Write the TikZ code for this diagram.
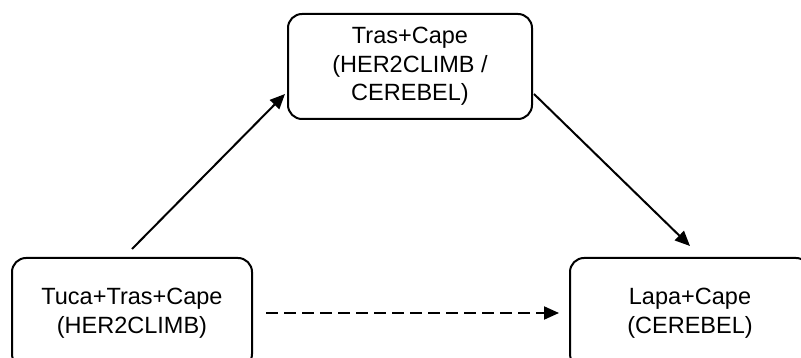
\documentclass[tikz,border=0pt]{standalone}
\usepackage{fontspec}
\setmainfont{Liberation Sans}
\usetikzlibrary{arrows.meta}
\begin{document}
\begin{tikzpicture}[x=1pt,y=-1pt,
  box/.style={draw=black, line width=2pt, rounded corners=14pt, minimum width=240pt, minimum height=110pt, inner sep=0pt, align=center, font=\fontsize{23.5pt}{28.6pt}\selectfont},
  topbox/.style={box, minimum width=244pt, minimum height=105pt},
  arr/.style={line width=2pt, -{Triangle[length=15pt,width=13pt]}},
  dasharr/.style={arr, dash pattern=on 12pt off 6pt}]
\clip (0,0) rectangle (801,358);
\useasboundingbox (0,0) rectangle (801,358);
\node[topbox] (T) at (410,66.5) {Tras+Cape\\(HER2CLIMB /\\CEREBEL)};
\node[box] (L) at (132,313) {Tuca+Tras+Cape\\(HER2CLIMB)};
\node[box] (R) at (690,313) {Lapa+Cape\\(CEREBEL)};
\coordinate (a1s) at ([yshift=8pt]L.north);
\coordinate (a1e) at ([xshift=-2pt,yshift=26pt]T.south west);
\coordinate (a2s) at ([xshift=1pt,yshift=26pt]T.south east);
\coordinate (a2e) at ([yshift=11pt]R.north);
\coordinate (a3s) at ([xshift=13pt]L.east);
\coordinate (a3e) at ([xshift=-10pt]R.west);
\draw[arr] (a1s) -- (a1e);
\draw[arr] (a2s) -- (a2e);
\draw[dasharr] (a3s) -- (a3e);
\end{tikzpicture}
\end{document}
